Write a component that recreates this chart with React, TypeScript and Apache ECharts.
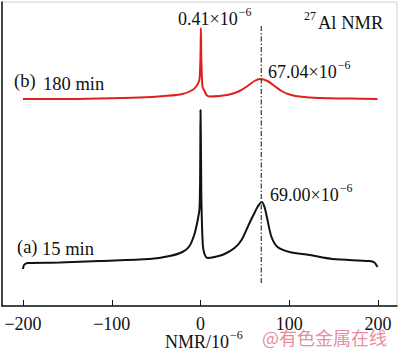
import React, { useEffect, useRef } from "react";
import * as echarts from "echarts";

// x: chemical shift (10^-6), y: relative intensity
const curveB: [number, number][] = [
  [-200, 207], [-158.9, 207], [-113.8, 207.5], [-68.7, 208.5], [-40.6, 210], [-20.3, 212],
  [-9, 216], [-4.5, 220], [-1.7, 225], [-0.8, 230], [0, 252], [0.41, 278], [0.8, 252],
  [1.6, 228], [2.3, 219], [4.5, 215], [6.8, 211], [10.1, 209.5], [21.4, 210], [32.7, 211.5],
  [43.9, 215], [52.9, 220], [60.8, 225], [67.04, 227], [75.5, 225], [83.4, 220], [91.3, 215],
  [100.3, 211.5], [111.5, 209.5], [134, 208], [167.9, 207.5], [199.4, 207],
];

const curveA: [number, number][] = [
  [-200, 37], [-198.9, 41], [-194.9, 43], [-158.9, 43.5], [-113.8, 45], [-57.5, 47],
  [-34.9, 50], [-20.3, 54], [-12.4, 60], [-6.8, 72], [-3.4, 85], [-1.1, 98], [-0.3, 146],
  [0, 196], [0.6, 146], [1.1, 101], [2.6, 61], [4.5, 52], [7.9, 48], [15.8, 49], [27, 52],
  [38.3, 58], [46.2, 66], [55.2, 83], [60.8, 93], [64.2, 99], [69, 104], [72.1, 99],
  [75.5, 86], [80, 69], [86.8, 59], [100.3, 54], [122.8, 51], [148.7, 47], [190.4, 45],
  [196, 43.5], [199.4, 39],
];

const refLine: [number, number][] = [[68.5, 280], [68.5, 21]];
const xTicks = [-200, -100, 0, 100, 200];

const serif = "'Liberation Serif', 'Times New Roman', serif";

function supText(x: number, y: number, main: string, sup: string, size = 18) {
  return {
    type: "text",
    x,
    y,
    style: {
      text: `{m|${main}}{s|${sup}}`,
      fontFamily: serif,
      verticalAlign: "middle",
      fill: "#111",
      rich: {
        m: { fontSize: size, fontFamily: serif, lineHeight: 22, verticalAlign: "bottom", fill: "#111" },
        s: { fontSize: 12, fontFamily: serif, lineHeight: 22, verticalAlign: "top", fill: "#111", padding: [0, 0, 0, 1] },
      },
    },
  };
}

function plain(x: number, y: number, text: string, size = 18) {
  return {
    type: "text",
    x,
    y,
    style: { text, fontSize: size, fontFamily: serif, fill: "#111", verticalAlign: "middle" },
  };
}

export default function App() {
  const ref = useRef<HTMLDivElement>(null);
  useEffect(() => {
    if (!ref.current) return;
    const chart = echarts.init(ref.current, null, { renderer: "svg" });
    chart.setOption({
      animation: false,
      backgroundColor: "#fff",
      grid: {
        left: 2, right: 3, top: 2, bottom: 45,
        outerBoundsMode: "none",
        containLabel: false,
        show: true, borderColor: "#d0d0d0", borderWidth: 1,
      },
      xAxis: {
        type: "value",
        min: -223.7,
        max: 221.4,
        axisLine: { show: true, onZero: false, lineStyle: { color: "#111", width: 1.5 } },
        axisTick: { show: true, inside: true, length: 6, customValues: xTicks, lineStyle: { color: "#111" } },
        axisLabel: {
          customValues: xTicks,
          margin: 9,
          fontSize: 18,
          fontFamily: serif,
          color: "#111",
          formatter: (v: number) => String(v).replace("-", "\u2212"),
        },
        splitLine: { show: false },
      },
      yAxis: {
        type: "value",
        min: 0,
        max: 304,
        axisLine: { show: true, onZero: false, lineStyle: { color: "#111", width: 1.5 } },
        axisTick: { show: false },
        axisLabel: { show: false },
        splitLine: { show: false },
      },
      series: [
        {
          type: "line",
          data: curveA,
          showSymbol: false,
          smooth: 0.3,
          lineStyle: { color: "#111", width: 2 },
        },
        {
          type: "line",
          data: curveB,
          showSymbol: false,
          smooth: 0.3,
          lineStyle: { color: "#e0201c", width: 2 },
        },
        {
          type: "line",
          data: refLine,
          showSymbol: false,
          lineStyle: { color: "#444", width: 1.3, type: [5, 2, 1.5, 2] },
        },
      ],
      graphic: [
        supText(165, 340, "NMR/10", "\u22126"),
        supText(178, 17, "0.41×10", "\u22126"),
        {
          type: "text",
          x: 304,
          y: 16,
          style: { text: "27", fontSize: 12, fontFamily: serif, fill: "#111", verticalAlign: "middle" },
        },
        plain(318, 23, "Al NMR", 18.5),
        plain(14, 81, "(b)", 18.5),
        plain(43, 84, "180 min", 18.5),
        supText(268, 70, "67.04×10", "\u22126"),
        supText(270, 193, "69.00×10", "\u22126"),
        plain(17, 247, "(a)", 18.5),
        plain(42, 249, "15 min", 18.5),
        {
          type: "text",
          x: 262,
          y: 337,
          style: {
            text: "@有色金属在线",
            fontSize: 18,
            fontFamily: "'Noto Sans CJK SC', sans-serif",
            fill: "rgba(226,110,135,0.8)",
            verticalAlign: "middle",
          },
        },
      ],
    });
    return () => chart.dispose();
  }, []);
  return (
    <div
      ref={ref}
      style={{ position: "fixed", left: 0, top: 0, width: 400, height: 351, background: "#fff" }}
    />
  );
}
